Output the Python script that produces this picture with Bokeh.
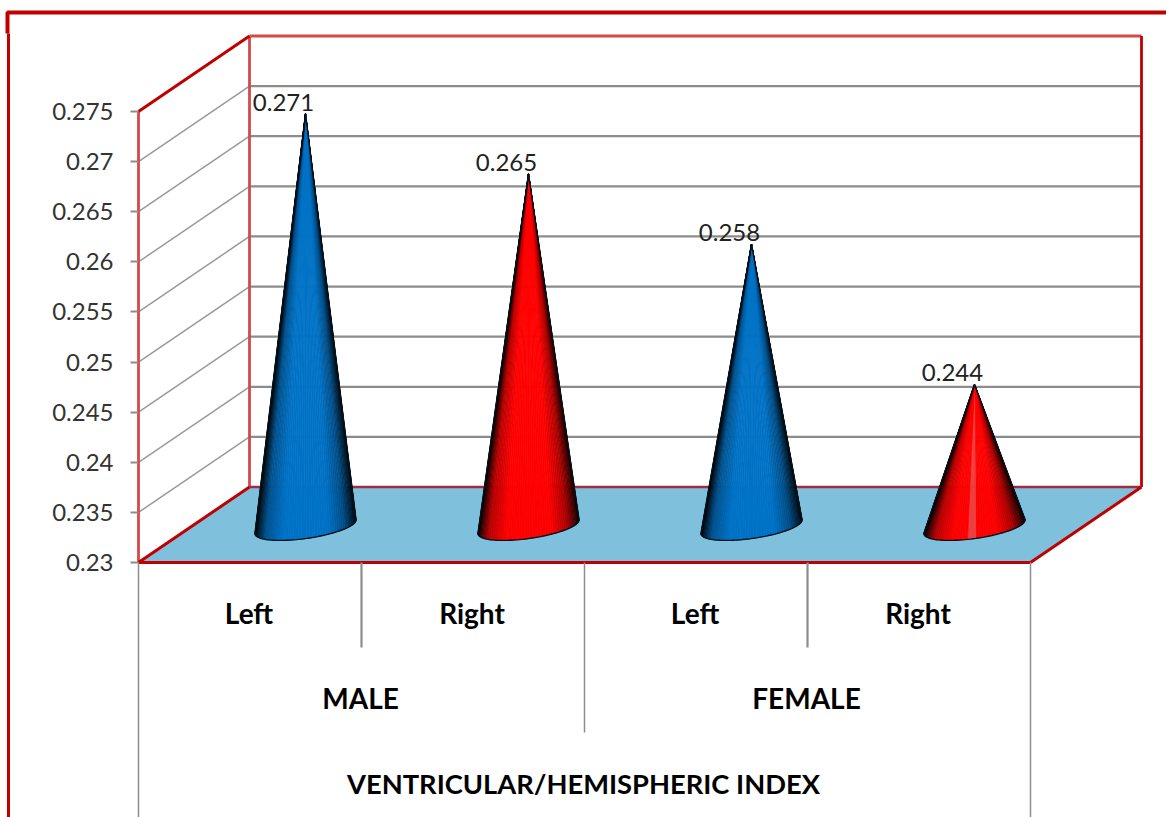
import numpy as np
from bokeh.embed import file_html
from bokeh.resources import INLINE
from bokeh.plotting import figure
from bokeh.models import LinearAxis, FixedTicker, NumeralTickFormatter, Range1d
from bokeh.core.properties import value

# ---- data ----
sides = ["Left", "Right", "Left", "Right"]
groups = ["MALE", "FEMALE"]
axis_title = "VENTRICULAR/HEMISPHERIC INDEX"
index_values = [0.271, 0.265, 0.258, 0.244]
value_labels = ["0.271", "0.265", "0.258", "0.244"]
cone_colors = [(0, 114, 198), (255, 0, 0), (0, 114, 198), (255, 0, 0)]
y_ticks = [0.23, 0.235, 0.24, 0.245, 0.25, 0.255, 0.26, 0.265, 0.27, 0.275]

# ---- scale set-up: one x unit is one category, y is the index value ----
Y0, Y1 = 0.23, 0.275
PX_X = 223.0                 # pixels per category
PX_Y = (Y1 - Y0) / 451.0     # value per pixel
DX = 111.0 / PX_X            # depth offset of the back wall
DY = 75.5 * PX_Y
LEFT, FLOOR = 138.0, 562.0   # position of the plot's origin inside the picture
N = len(index_values)
TEXT_SHIFT = 1.0 / PX_X

def sx(px):
    return (px - LEFT) / PX_X

def sy(py):
    return Y0 + (FLOOR - py) * PX_Y

p = figure(width=1166, height=817, output_backend="svg", toolbar_location=None,
           x_range=Range1d(sx(0), sx(1166)), y_range=Range1d(sy(817), sy(0)),
           x_axis_location=None, y_axis_location=None, min_border=0,
           outline_line_color=None, background_fill_color="white", border_fill_color="white")
p.grid.visible = False

GREY = "#8c8c8c"
RED = "#c00000"
WALL = "#d24a4a"

# outer border
p.line([sx(8), sx(8)], [sy(817), sy(33)], line_color=RED, line_width=3)
p.line([sx(7), sx(7), sx(1166)], [sy(33), sy(12), sy(12)], line_color=RED, line_width=4)

# floor
p.patch([0, N, N + DX, DX], [Y0, Y0, Y0 + DY, Y0 + DY], fill_color="#7fc1dd", line_color=None)

# gridlines on the side and back walls
for t in y_ticks[1:-1]:
    p.line([0, DX], [t, t + DY], line_color="#999999", line_width=1.5)
    p.line([DX, N + DX], [t + DY, t + DY], line_color=GREY, line_width=2.2)

# wall edges
p.line([0, 0], [Y0, Y1], line_color=WALL, line_width=2.8)
p.line([DX, N + DX], [Y1 + DY, Y1 + DY], line_color=WALL, line_width=3)
p.line([DX, DX], [Y0 + DY, Y1 + DY], line_color=WALL, line_width=2.8)
p.line([0, DX], [Y1, Y1 + DY], line_color=RED, line_width=3)
p.line([N + DX, N + DX], [Y0 + DY, Y1 + DY], line_color=RED, line_width=2.8)
p.line([DX, N + DX], [Y0 + DY, Y0 + DY], line_color="#a02c44", line_width=2.4)
p.line([0, DX], [Y0, Y0 + DY], line_color=RED, line_width=3)
p.line([N, N + DX], [Y0, Y0 + DY], line_color=RED, line_width=3)
p.line([0, N], [Y0, Y0], line_color=RED, line_width=2.8)

# cones
SHADE_U = [0, 0.02, 0.10, 0.28, 0.72, 0.88, 0.98, 1]
SHADE_F = [0.04, 0.2, 0.72, 1.0, 1.0, 0.68, 0.18, 0.02]
A = np.array([50.5, 6.5])    # base ellipse half axes, px (x right, y up)
B = np.array([-1.5, -12.0])
for i, v in enumerate(index_values):
    tx = i + 0.5 + DX / 2
    ty = v + DY / 2
    cy = Y0 + DY / 2 - 2 * PX_Y
    t = np.linspace(-0.6, np.pi + 0.6, 241)
    ex = np.cos(t) * A[0] + np.sin(t) * B[0]
    ey = np.cos(t) * A[1] + np.sin(t) * B[1]
    # rim as seen from the tip: keep the arc between the two tangent points
    hgt = (ty - cy) / PX_Y
    ang = np.arctan2(ex, hgt - ey)
    a, b = sorted((int(np.argmin(ang)), int(np.argmax(ang))))
    ex, ey = ex[a:b + 1], ey[a:b + 1]
    ex, ey = ex[::3], ey[::3]
    xs = tx + ex / PX_X
    ys = cy + ey * PX_Y
    lo, hi = ex.min(), ex.max()
    base = np.array(cone_colors[i], dtype=float)
    sx_l, sy_l, cols = [], [], []
    for j in range(len(xs) - 1):
        u = (0.5 * (ex[j] + ex[j + 1]) - lo) / (hi - lo)
        f = np.interp(u, SHADE_U, SHADE_F)
        c = base * f
        if i == N - 1 and abs(u - 0.47) < 0.05:
            c = c * 0.7 + np.array([255, 255, 255]) * 0.3 * 0.8
        c = "#%02x%02x%02x" % tuple(int(round(q)) for q in np.clip(c, 0, 255))
        sx_l.append([tx, xs[j], xs[j + 1]])
        sy_l.append([ty, ys[j], ys[j + 1]])
        cols.append(c)
    p.patches(sx_l, sy_l, fill_color=cols, line_color=cols, line_width=0.7)
    p.line(list(xs) + [tx, xs[0]], list(ys) + [ty, ys[0]], line_color="#04121c", line_width=1.4)

# value labels
FONT = "Lato"
p.text([i + 0.5 + DX / 2 - 22 / PX_X for i in range(N)],
       [v + DY / 2 + 3 * PX_Y for v in index_values],
       text=value_labels, text_font=value(FONT), text_font_size="24px",
       text_color="#222222", text_align="center", text_baseline="bottom")

# multi-level category area
p.segment([0, N], [Y0, Y0], [0, N], [sy(817), sy(817)], line_color=GREY, line_width=1.5)
p.segment([1, 3], [Y0, Y0], [1, 3], [sy(647), sy(647)], line_color=GREY, line_width=2.2)
p.segment([2], [Y0], [2], [sy(732)], line_color=GREY, line_width=1.5)
p.text([i + 0.5 - TEXT_SHIFT for i in range(N)], [sy(612)] * N, text=sides, text_font=value(FONT),
       text_font_style="bold", text_font_size="28px", text_color="black",
       text_align="center", text_baseline="middle")
p.text([1 - TEXT_SHIFT, 3 - TEXT_SHIFT], [sy(697)] * 2, text=groups, text_font=value(FONT),
       text_font_style="bold", text_font_size="28px", text_color="black",
       text_align="center", text_baseline="middle")
p.text([2 - TEXT_SHIFT], [sy(783)], text=[axis_title], text_font=value(FONT),
       text_font_style="bold", text_font_size="27.3px", text_color="black",
       text_align="center", text_baseline="middle")

# value axis on the front-left edge
ax = LinearAxis(fixed_location=0, ticker=FixedTicker(ticks=y_ticks),
                formatter=NumeralTickFormatter(format="0.[000]"), bounds=(Y0, Y1))
ax.axis_line_color = None
ax.major_tick_line_color = GREY
ax.major_tick_line_width = 2
ax.major_tick_in = 0
ax.major_tick_out = 8
ax.minor_tick_line_color = None
ax.major_label_standoff = 17
ax.major_label_text_font = FONT
ax.major_label_text_font_size = "24px"
ax.major_label_text_color = "#333333"
p.add_layout(ax, "left")

open("out.html", "w").write(file_html(p, INLINE))
